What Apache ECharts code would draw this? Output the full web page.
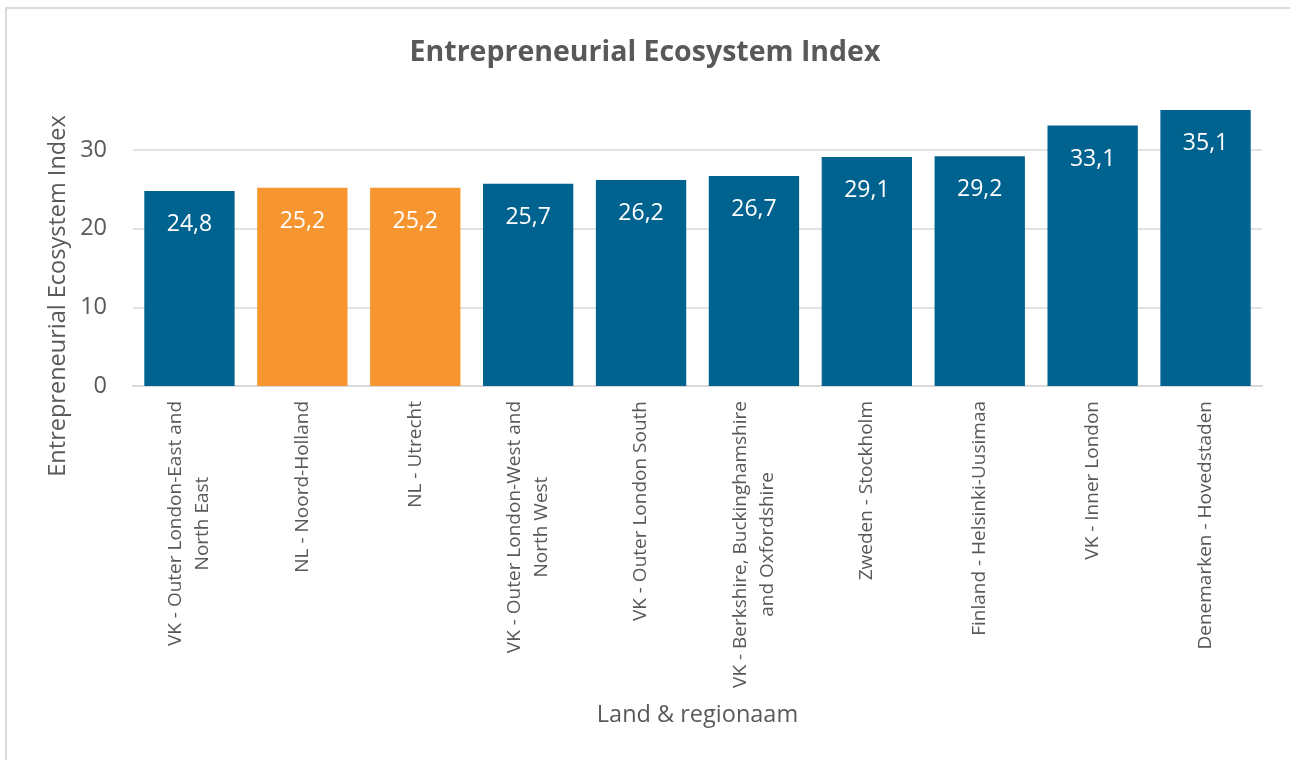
<!DOCTYPE html>
<html>
<head>
<meta charset="utf-8">
<script src="https://cdn.jsdelivr.net/npm/echarts@6/dist/echarts.min.js"></script>
<style>
  html, body { margin: 0; padding: 0; background: #fff; overflow: hidden; }
  #chart { width: 1290px; height: 760px; }
</style>
</head>
<body>
<div id="chart"></div>
<script>
// regions, sorted ascending as in the source chart
const regions = [
  'VK - Outer London-East and\nNorth East',
  'NL - Noord-Holland',
  'NL - Utrecht',
  'VK - Outer London-West and\nNorth West',
  'VK - Outer London South',
  'VK - Berkshire, Buckinghamshire\nand Oxfordshire',
  'Zweden - Stockholm',
  'Finland - Helsinki-Uusimaa',
  'VK - Inner London',
  'Denemarken - Hovedstaden',
]
const indexValues = [24.8, 25.2, 25.2, 25.7, 26.2, 26.7, 29.1, 29.2, 33.1, 35.1]
// Dutch regions get the highlight colour
const highlighted = ['NL - Noord-Holland', 'NL - Utrecht']

const BLUE = '#00628F'
const ORANGE = '#F79630'
const TXT = '#595959'
const FONT = 'Open Sans'

const chart = echarts.init(document.getElementById('chart'))
chart.setOption({
  textStyle: { fontFamily: FONT },
  title: {
    text: 'Entrepreneurial Ecosystem Index',
    left: 'center',
    top: 33,
    textStyle: { fontSize: 28.5, fontWeight: 'bold', color: TXT, fontFamily: FONT },
  },
  graphic: [
    {
      type: 'rect',
      silent: true,
      z: -10,
      shape: { x: 6, y: 8, width: 1400, height: 900 },
      style: { fill: 'none', stroke: '#d9d9d9', lineWidth: 2 },
    },
    {
      type: 'text',
      x: 58, y: 296,
      rotation: Math.PI / 2,
      style: {
        text: 'Entrepreneurial Ecosystem Index',
        fill: TXT, fontSize: 23.5, fontFamily: FONT,
        align: 'center', verticalAlign: 'middle',
      },
    },
  ],
  grid: { left: 133, right: 28, top: 102.8, bottom: 374 },
  xAxis: {
    type: 'category',
    data: regions,
    name: 'Land & regionaam',
    nameLocation: 'middle',
    nameGap: 317,
    nameTextStyle: { fontSize: 23.5, color: TXT, fontFamily: FONT },
    axisLine: { lineStyle: { color: '#d9d9d9', width: 2 } },
    axisTick: { show: false },
    axisLabel: {
      interval: 0,
      rotate: 90,
      margin: 15,
      formatter: v => v.split('\n').map(s => '{c|' + s + '}').join('\n'),
      rich: { c: { align: 'center', fontSize: 19, lineHeight: 27, color: TXT, fontFamily: FONT } },
    },
  },
  yAxis: {
    type: 'value',
    min: 0,
    max: 36,
    interval: 10,
    axisLine: { show: false },
    axisTick: { show: false },
    axisLabel: { fontSize: 23.5, color: TXT, margin: 26, showMaxLabel: false, fontFamily: FONT },
    splitLine: { showMaxLine: false, lineStyle: { color: '#d9d9d9', width: 1.5 } },
  },
  series: [{
    type: 'bar',
    barCategoryGap: '20%',
    data: indexValues.map((v, i) => ({
      value: v,
      itemStyle: { color: highlighted.includes(regions[i]) ? ORANGE : BLUE },
    })),
    label: {
      show: true,
      position: 'insideTop',
      distance: 22,
      color: '#fff',
      fontSize: 23,
      fontFamily: FONT,
      formatter: p => p.value.toFixed(1).replace('.', ','),
    },
  }],
})
</script>
</body>
</html>
